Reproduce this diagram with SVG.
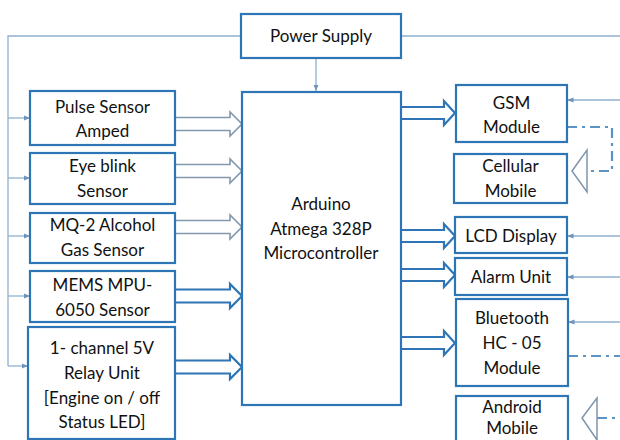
<svg xmlns="http://www.w3.org/2000/svg" width="620" height="440" viewBox="0 0 620 440">
<defs>
<style>
.box{fill:#fff;stroke:#2e75b6;stroke-width:2.2}
.t{font-family:Lato,"Open Sans","Liberation Sans",sans-serif;font-size:17px;fill:#111;text-anchor:middle}
.thin{fill:none;stroke:#8fb0cf;stroke-width:1.3}
.ga{fill:none;stroke:#8298ad;stroke-width:1.6}
.ba{fill:none;stroke:#2e75b6;stroke-width:2.2}
.dd{fill:none;stroke:#5b93c4;stroke-width:2.2;stroke-dasharray:10 5 3 5}
.tri{fill:#fff;stroke:#7f95ab;stroke-width:1.5}
</style>
<marker id="ah" viewBox="0 0 10 10" refX="10" refY="5" markerWidth="5" markerHeight="5" orient="auto">
<path d="M0,1 L10,5 L0,9 Z" fill="#6f95bb"/>
</marker>
<path id="la" d="M0,-6.5 H55 V-12 L67,0 L55,12 V6.5 H0"/>
<path id="ra" d="M0,-6 H43 V-12 L54,0 L43,12 V6 H0"/>
</defs>
<g id="connectors">
<path class="thin" d="M240,36 H8 V366"/>
<path class="thin" d="M401,36 H620"/>
<path class="thin" d="M8,118 H30" marker-end="url(#ah)"/>
<path class="thin" d="M8,178 H30" marker-end="url(#ah)"/>
<path class="thin" d="M8,236 H30" marker-end="url(#ah)"/>
<path class="thin" d="M8,296 H30" marker-end="url(#ah)"/>
<path class="thin" d="M8,366 H28" marker-end="url(#ah)"/>
<path class="thin" d="M316,58 V91" marker-end="url(#ah)"/>
<path class="thin" d="M620,100 H567" marker-end="url(#ah)"/>
<path class="thin" d="M620,236 H567" marker-end="url(#ah)"/>
<path class="thin" d="M620,277 H567" marker-end="url(#ah)"/>
<path class="thin" d="M620,322 H568" marker-end="url(#ah)"/>
<use href="#la" class="ga" transform="translate(175,124)"/>
<use href="#la" class="ga" transform="translate(175,171)"/>
<use href="#la" class="ga" transform="translate(175,227)"/>
<use href="#la" class="ba" transform="translate(175,296)"/>
<use href="#la" class="ba" transform="translate(175,367)"/>
<use href="#ra" class="ba" transform="translate(401,113)"/>
<use href="#ra" class="ba" transform="translate(401,236)"/>
<use href="#ra" class="ba" transform="translate(401,275)"/>
<use href="#ra" class="ba" transform="translate(401,343)"/>
<path class="dd" d="M567,127 H612 V171 H588"/>
<polygon class="tri" points="572,171 587,150 587,192"/>
<path class="dd" d="M568,356 H620"/>
<path class="dd" d="M597,418 H620"/>
<polygon class="tri" points="582,418 597,398 597,440"/>
</g>
<g id="power"><rect class="box" x="241" y="14" width="160" height="44"/><text class="t" x="321" y="42">Power Supply</text></g>
<g id="mcu"><rect class="box" x="242" y="92" width="159" height="313"/>
<text class="t" x="321" y="210">Arduino</text><text class="t" x="321" y="234.5">Atmega 328P</text><text class="t" x="321" y="259">Microcontroller</text></g>
<g id="pulse"><rect class="box" x="30" y="91" width="145" height="54"/><text class="t" x="102.5" y="112.5">Pulse Sensor</text><text class="t" x="102.5" y="136.5">Amped</text></g>
<g id="eye"><rect class="box" x="30" y="153" width="145" height="51"/><text class="t" x="102.5" y="171.5">Eye blink</text><text class="t" x="102.5" y="196.5">Sensor</text></g>
<g id="mq2"><rect class="box" x="30" y="213" width="145" height="50"/><text class="t" x="102.5" y="230.5">MQ-2 Alcohol</text><text class="t" x="102.5" y="256">Gas Sensor</text></g>
<g id="mems"><rect class="box" x="30" y="271" width="145" height="51"/><text class="t" x="102.5" y="291">MEMS MPU-</text><text class="t" x="102.5" y="316">6050 Sensor</text></g>
<g id="relay"><rect class="box" x="28" y="327" width="147" height="112"/><text class="t" x="102" y="354">1- channel 5V</text><text class="t" x="102" y="378.5">Relay Unit</text><text class="t" x="102" y="403.5">[Engine on / off</text><text class="t" x="102" y="428">Status LED]</text></g>
<g id="gsm"><rect class="box" x="456" y="85" width="111" height="57"/><text class="t" x="511.5" y="108.5">GSM</text><text class="t" x="511.5" y="132.5">Module</text></g>
<g id="cell"><rect class="box" x="454" y="154" width="113" height="49"/><text class="t" x="510.5" y="171.5">Cellular</text><text class="t" x="510.5" y="196.5">Mobile</text></g>
<g id="lcd"><rect class="box" x="455" y="217" width="112" height="36"/><text class="t" x="511" y="241.5">LCD Display</text></g>
<g id="alarm"><rect class="box" x="455" y="258" width="112" height="37"/><text class="t" x="511" y="282.5">Alarm Unit</text></g>
<g id="bt"><rect class="box" x="456" y="299" width="112" height="87"/><text class="t" x="512" y="324">Bluetooth</text><text class="t" x="512" y="349">HC - 05</text><text class="t" x="512" y="374">Module</text></g>
<g id="android"><rect class="box" x="456" y="396" width="112" height="50"/><text class="t" x="512" y="413">Android</text><text class="t" x="512" y="434">Mobile</text></g>
</svg>
